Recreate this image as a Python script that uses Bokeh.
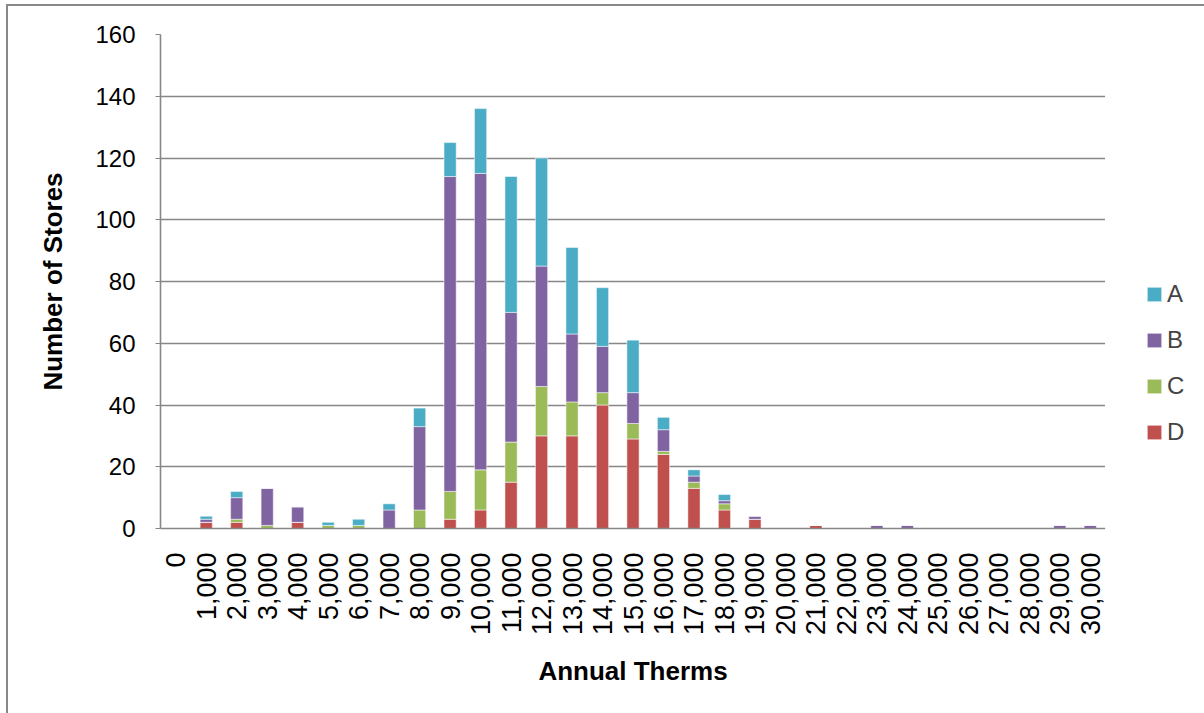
import math
from bokeh.plotting import figure
from bokeh.layouts import row
from bokeh.models import (Range1d, FactorRange, FixedTicker, Legend, LegendItem)
from bokeh.embed import file_html
from bokeh.resources import INLINE

categories = ["0", "1,000", "2,000", "3,000", "4,000", "5,000", "6,000", "7,000",
              "8,000", "9,000", "10,000", "11,000", "12,000", "13,000", "14,000",
              "15,000", "16,000", "17,000", "18,000", "19,000", "20,000", "21,000",
              "22,000", "23,000", "24,000", "25,000", "26,000", "27,000", "28,000",
              "29,000", "30,000"]
series_D = [0, 2, 2, 0, 2, 0, 0, 0, 0, 3, 6, 15, 30, 30, 40, 29, 24, 13, 6, 3,
            0, 1, 0, 0, 0, 0, 0, 0, 0, 0, 0]
series_C = [0, 0, 1, 1, 0, 1, 1, 0, 6, 9, 13, 13, 16, 11, 4, 5, 1, 2, 2, 0,
            0, 0, 0, 0, 0, 0, 0, 0, 0, 0, 0]
series_B = [0, 1, 7, 12, 5, 0, 0, 6, 27, 102, 96, 42, 39, 22, 15, 10, 7, 2, 1, 1,
            0, 0, 0, 1, 1, 0, 0, 0, 0, 1, 1]
series_A = [0, 1, 2, 0, 0, 1, 2, 2, 6, 11, 21, 44, 35, 28, 19, 17, 4, 2, 2, 0,
            0, 0, 0, 0, 0, 0, 0, 0, 0, 0, 0]
series_names = ["A", "B", "C", "D"]
y_ticks = [0, 20, 40, 60, 80, 100, 120, 140, 160]

colors = {"A": "#4BACC6", "B": "#8064A2", "C": "#9BBB59", "D": "#C0504D"}
FONT = "Liberation Sans"
GRID = "#878787"

data = {"cat": categories, "D": series_D, "C": series_C, "B": series_B, "A": series_A}
stack_order = ["D", "C", "B", "A"]

p = figure(x_range=FactorRange(*categories, range_padding=0), y_range=Range1d(0, 160),
           width=1097, height=708, output_backend="svg", toolbar_location=None,
           min_border_left=152, min_border_top=28, min_border_right=0,
           min_border_bottom=186)
p.outline_line_color = None
p.background_fill_color = "white"
p.border_fill_color = "white"

p.vbar_stack(stack_order, x="cat", width=0.4, source=data,
             color=[colors[k] for k in stack_order],
             line_color="white", line_alpha=0.5, line_width=1)

p.xgrid.grid_line_color = None
p.ygrid.grid_line_color = GRID
p.ygrid.grid_line_width = 1.6
p.yaxis.ticker = FixedTicker(ticks=y_ticks)
p.yaxis.minor_tick_line_color = None
p.yaxis.major_tick_in = 0
p.yaxis.major_tick_out = 5
p.yaxis.major_tick_line_color = GRID
p.yaxis.axis_line_color = GRID
p.yaxis.axis_line_width = 1.6
p.yaxis.major_label_text_font = FONT
p.yaxis.major_label_text_font_size = "24px"
p.yaxis.major_label_text_color = "black"
p.yaxis.major_label_standoff = 20
p.yaxis.axis_label = "Number of Stores"
p.yaxis.axis_label_text_font = FONT
p.yaxis.axis_label_text_font_size = "26px"
p.yaxis.axis_label_text_font_style = "bold"
p.yaxis.axis_label_text_color = "black"
p.yaxis.axis_label_standoff = 24

p.xaxis.major_tick_line_color = None
p.xaxis.minor_tick_line_color = None
p.xaxis.axis_line_color = GRID
p.xaxis.axis_line_width = 1.6
p.xaxis.major_label_orientation = math.pi / 2
p.xaxis.major_label_text_font = FONT
p.xaxis.major_label_text_font_size = "27px"
p.xaxis.major_label_text_color = "black"
p.xaxis.major_label_standoff = 18
p.xaxis.axis_label = "Annual Therms"
p.xaxis.axis_label_text_font = FONT
p.xaxis.axis_label_text_font_size = "26px"
p.xaxis.axis_label_text_font_style = "bold"
p.xaxis.axis_label_text_color = "black"
p.xaxis.axis_label_standoff = 18

# legend panel (separate figure so the legend sits outside the plot frame)
pl = figure(width=100, height=708, x_range=Range1d(0, 1), y_range=Range1d(0, 1),
            output_backend="svg", toolbar_location=None,
            x_axis_type=None, y_axis_type=None,
            min_border_left=0, min_border_right=0, min_border_top=0, min_border_bottom=0)
pl.outline_line_color = None
pl.xgrid.grid_line_color = None
pl.ygrid.grid_line_color = None
items = []
for k in series_names:
    # legend proxies: placed far outside the visible ranges
    r = pl.vbar(x=[-50], top=[-50], bottom=[-51], width=0.4, color=colors[k],
                line_color="white", line_alpha=0.5, line_width=1)
    items.append(LegendItem(label=k, renderers=[r]))
legend = Legend(items=items, location=(40, 82), orientation="vertical",
                label_text_font=FONT, label_text_font_size="24px",
                glyph_width=18, glyph_height=18, label_height=28, spacing=18,
                label_standoff=4, padding=0, margin=0,
                border_line_color=None, background_fill_alpha=0)
pl.add_layout(legend, "center")

layout = row(p, pl, spacing=0)
layout.styles = {"margin-left": "6px", "margin-top": "4px",
                 "border-left": "2px solid #898989", "border-top": "2px solid #898989"}

open("out.html", "w").write(file_html(layout, INLINE))
